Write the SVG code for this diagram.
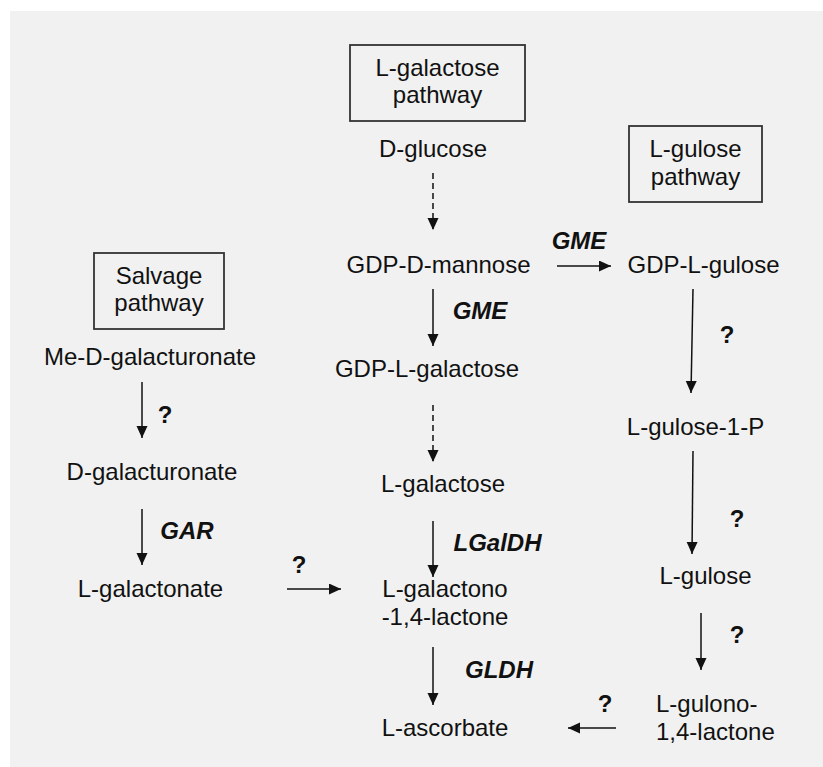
<svg xmlns="http://www.w3.org/2000/svg" width="823" height="767" viewBox="0 0 823 767">
<style>
.t{font-family:"Liberation Sans",Arial,sans-serif;font-size:24px;fill:#111;text-anchor:middle}
.e{font-family:"Liberation Sans",Arial,sans-serif;font-size:24px;font-weight:bold;font-style:italic;fill:#111;text-anchor:middle}
.q{font-family:"Liberation Sans",Arial,sans-serif;font-size:24px;font-weight:bold;fill:#111;text-anchor:middle}
.box{fill:none;stroke:#333;stroke-width:1.8}
.a{stroke:#111;stroke-width:1.5;fill:none;marker-end:url(#ah)}
.d{stroke-dasharray:6 4}
</style>
<defs>
<marker id="ah" markerUnits="userSpaceOnUse" markerWidth="13" markerHeight="12" refX="12" refY="5.5" orient="auto">
<path d="M0,0 L12,5.5 L0,11 z" fill="#111"/>
</marker>
</defs>
<rect x="10" y="11" width="813" height="756" fill="#f1f1f1"/>

<g id="title-lgalactose">
<rect class="box" x="350" y="45" width="175" height="76"/>
<text class="t" x="437.5" y="76">L-galactose</text>
<text class="t" x="437.5" y="103">pathway</text>
</g>
<g id="title-lgulose">
<rect class="box" x="629" y="126" width="133" height="76"/>
<text class="t" x="695.5" y="157">L-gulose</text>
<text class="t" x="695.5" y="185">pathway</text>
</g>
<g id="title-salvage">
<rect class="box" x="94" y="253" width="130" height="76"/>
<text class="t" x="159" y="284">Salvage</text>
<text class="t" x="159" y="311">pathway</text>
</g>

<g id="d-glucose"><text class="t" x="433" y="157">D-glucose</text></g>
<g id="gdp-d-mannose"><text class="t" x="438.5" y="273">GDP-D-mannose</text></g>
<g id="gdp-l-galactose"><text class="t" x="427" y="377">GDP-L-galactose</text></g>
<g id="l-galactose"><text class="t" x="443" y="492">L-galactose</text></g>
<g id="l-galactono-lactone">
<text class="t" x="445" y="597">L-galactono</text>
<text class="t" x="445" y="625">-1,4-lactone</text>
</g>
<g id="l-ascorbate"><text class="t" x="445" y="736">L-ascorbate</text></g>

<g id="me-d-galacturonate"><text class="t" x="150" y="365">Me-D-galacturonate</text></g>
<g id="d-galacturonate"><text class="t" x="152" y="480">D-galacturonate</text></g>
<g id="l-galactonate"><text class="t" x="150.5" y="597">L-galactonate</text></g>

<g id="gdp-l-gulose"><text class="t" x="703.5" y="273">GDP-L-gulose</text></g>
<g id="l-gulose-1-p"><text class="t" x="695.5" y="435">L-gulose-1-P</text></g>
<g id="l-gulose"><text class="t" x="705.5" y="584">L-gulose</text></g>
<g id="l-gulono-lactone">
<text class="t" x="656" y="712" style="text-anchor:start">L-gulono-</text>
<text class="t" x="656" y="740" style="text-anchor:start">1,4-lactone</text>
</g>

<g id="connectors">
<line class="a d" x1="433" y1="173" x2="433" y2="230"/>
<line class="a" x1="557" y1="266" x2="611" y2="266"/>
<line class="a" x1="433" y1="289" x2="433" y2="346"/>
<line class="a d" x1="433" y1="405" x2="433" y2="462"/>
<line class="a" x1="433" y1="521" x2="433" y2="577"/>
<line class="a" x1="433" y1="647" x2="433" y2="705"/>
<line class="a" x1="142" y1="382" x2="142" y2="438"/>
<line class="a" x1="142" y1="509" x2="142" y2="565"/>
<line class="a" x1="287" y1="589" x2="341" y2="589"/>
<line class="a" x1="693" y1="289" x2="691" y2="393"/>
<line class="a" x1="693" y1="451" x2="692" y2="554"/>
<line class="a" x1="701" y1="613" x2="701" y2="670"/>
<line class="a" x1="616" y1="728" x2="568" y2="728"/>
</g>

<g id="connector-labels">
<text class="e" x="579" y="249">GME</text>
<text class="e" x="480" y="319">GME</text>
<text class="e" x="497.5" y="551">LGalDH</text>
<text class="e" x="499" y="678">GLDH</text>
<text class="e" x="187" y="539">GAR</text>
<text class="q" x="165" y="423">?</text>
<text class="q" x="727" y="343">?</text>
<text class="q" x="737" y="527">?</text>
<text class="q" x="737" y="643">?</text>
<text class="q" x="605" y="712">?</text>
<text class="q" x="299" y="573">?</text>
</g>
</svg>
